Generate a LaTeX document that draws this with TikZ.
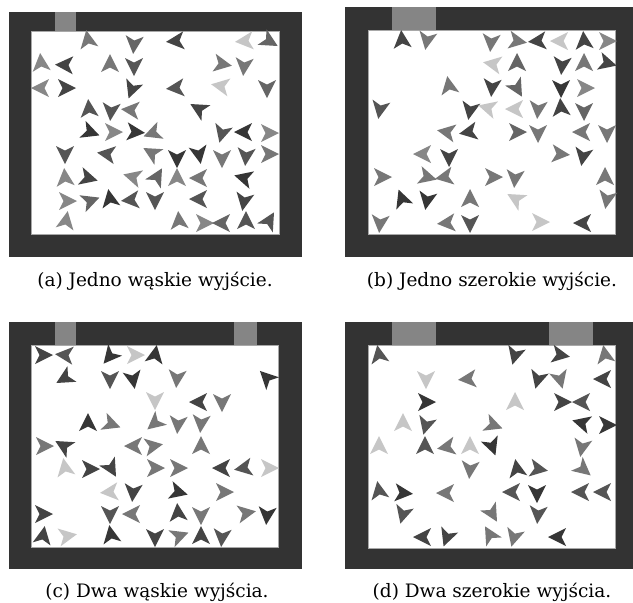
\documentclass[tikz,border=0pt]{standalone}
\usepackage{fontspec}
\setmainfont{DejaVu Serif}
\definecolor{frameC}{HTML}{333333}
\definecolor{exitC}{HTML}{858585}
\definecolor{edgeC}{HTML}{A8A8A8}
\definecolor{A}{HTML}{363636}
\definecolor{B}{HTML}{444444}
\definecolor{C}{HTML}{555555}
\definecolor{D}{HTML}{656565}
\definecolor{E}{HTML}{777777}
\definecolor{F}{HTML}{878787}
\definecolor{L}{HTML}{C6C6C6}
\newcommand\ag[4]{\fill[#4,shift={(#1,#2)},rotate=#3] (10,0) -- (-8,9) -- (-3.5,0) -- (-8,-9) -- cycle;}
\tikzset{
  framebox/.style={fill=frameC},
  room/.style={fill=white,draw=edgeC,line width=0.8pt},
  exitdoor/.style={fill=exitC},
  captext/.style={font=\fontsize{18.5}{22}\selectfont,inner sep=0pt,anchor=base}
}
\begin{document}
\begin{tikzpicture}[x=1pt,y=-1pt]
\useasboundingbox (0,0) rectangle (633,603);
% ---------- panel (a)
\fill[framebox] (9,12) rectangle (302,257);
\filldraw[room] (31,31) rectangle (279,234);
\fill[exitdoor] (55,12) rectangle (76,30.6);
% ---------- panel (b)
\fill[framebox] (345,7) rectangle (633,257);
\filldraw[room] (368,30) rectangle (615,234);
\fill[exitdoor] (392,7) rectangle (436,29.6);
% ---------- panel (c)
\fill[framebox] (9,322) rectangle (302,569);
\filldraw[room] (31,345) rectangle (278,547);
\fill[exitdoor] (55,322) rectangle (76,344.6);
\fill[exitdoor] (234,322) rectangle (257,344.6);
% ---------- panel (d)
\fill[framebox] (345,322) rectangle (633,569);
\filldraw[room] (368,345) rectangle (615,548);
\fill[exitdoor] (392,322) rectangle (436,344.6);
\fill[exitdoor] (549,322) rectangle (593,344.6);
% ---------- agents (a)
\ag{88}{40}{100}{E}\ag{134}{44}{265}{D}\ag{41}{63}{95}{F}\ag{65}{65}{178}{B}
\ag{110}{64}{90}{E}\ag{134}{66}{270}{C}\ag{41}{88}{180}{F}\ag{66}{88}{0}{B}
\ag{132}{89}{250}{B}\ag{89}{109}{95}{C}\ag{111}{111}{265}{C}\ag{131}{110}{175}{E}
\ag{90}{132}{340}{A}\ag{113}{132}{0}{F}\ag{135}{132}{355}{A}\ag{153}{133}{200}{E}
\ag{65}{154}{270}{C}\ag{107}{154}{172}{C}\ag{152}{153}{150}{E}\ag{65}{178}{95}{F}
\ag{88}{178}{345}{B}\ag{133}{177}{165}{F}\ag{157}{177}{60}{D}\ag{67}{201}{0}{F}
\ag{90}{201}{20}{D}\ag{110}{199}{100}{A}\ag{131}{200}{185}{C}\ag{155}{200}{270}{C}
\ag{66}{221}{80}{F}\ag{176}{41}{185}{B}\ag{245}{41}{185}{L}\ag{269}{41}{330}{D}
\ag{222}{64}{350}{E}\ag{244}{66}{265}{E}\ag{176}{88}{185}{C}\ag{221}{86}{170}{L}
\ag{267}{88}{270}{D}\ag{199}{109}{150}{B}\ag{222}{133}{255}{C}\ag{244}{132}{180}{A}
\ag{269}{133}{0}{F}\ag{177}{158}{270}{A}\ag{199}{154}{280}{A}\ag{222}{158}{270}{E}
\ag{246}{156}{265}{C}\ag{269}{154}{0}{E}\ag{177}{178}{90}{F}\ag{199}{178}{180}{E}
\ag{244}{178}{165}{A}\ag{199}{199}{180}{C}\ag{244}{201}{260}{B}\ag{179}{221}{95}{E}
\ag{204}{223}{0}{F}\ag{222}{223}{180}{D}\ag{246}{221}{90}{C}\ag{269}{221}{60}{C}
% ---------- agents (b)
\ag{402}{40}{95}{B}\ag{427}{40}{260}{E}\ag{449}{86}{100}{E}\ag{380}{109}{260}{C}
\ag{470}{110}{260}{B}\ag{447}{132}{170}{E}\ag{469}{132}{190}{B}\ag{423}{154}{180}{F}
\ag{449}{157}{270}{B}\ag{382}{177}{0}{E}\ag{427}{177}{345}{E}\ag{445}{177}{190}{E}
\ag{493}{177}{0}{E}\ag{402}{199}{110}{A}\ag{427}{200}{260}{A}\ag{470}{199}{90}{E}
\ag{380}{223}{265}{E}\ag{447}{223}{185}{E}\ag{470}{223}{270}{C}\ag{491}{42}{265}{E}
\ag{517}{41}{350}{E}\ag{538}{41}{185}{B}\ag{560}{41}{180}{L}\ag{584}{41}{95}{B}
\ag{607}{41}{0}{F}\ag{493}{64}{170}{L}\ag{517}{63}{90}{D}\ag{562}{65}{265}{B}
\ag{584}{63}{90}{E}\ag{607}{63}{345}{B}\ag{492}{87}{265}{B}\ag{517}{88}{300}{D}
\ag{561}{88}{270}{A}\ag{585}{88}{0}{F}\ag{488}{108}{165}{L}\ag{515}{109}{180}{L}
\ag{538}{109}{265}{E}\ag{561}{108}{95}{B}\ag{584}{111}{270}{D}\ag{517}{132}{0}{D}
\ag{538}{133}{270}{E}\ag{582}{132}{180}{E}\ag{607}{133}{270}{E}\ag{560}{154}{355}{E}
\ag{583}{156}{260}{B}\ag{515}{178}{265}{E}\ag{605}{177}{90}{E}\ag{516}{199}{150}{L}
\ag{607}{199}{260}{E}\ag{540}{222}{0}{L}\ag{583}{223}{180}{B}
% ---------- agents (c)
\ag{43}{355}{0}{B}\ag{65}{355}{175}{C}\ag{110}{356}{230}{A}\ag{135}{355}{0}{L}
\ag{155}{355}{80}{A}\ag{65}{378}{210}{B}\ag{110}{379}{270}{C}\ag{133}{379}{280}{A}
\ag{155}{400}{270}{L}\ag{88}{423}{90}{A}\ag{111}{424}{340}{E}\ag{155}{423}{220}{E}
\ag{44}{446}{0}{E}\ag{64}{446}{150}{B}\ag{134}{446}{180}{E}\ag{153}{446}{10}{E}
\ag{65}{468}{100}{L}\ag{90}{469}{0}{B}\ag{111}{468}{300}{B}\ag{155}{468}{0}{E}
\ag{110}{492}{185}{L}\ag{133}{492}{265}{B}\ag{43}{514}{0}{B}\ag{110}{514}{270}{C}
\ag{132}{514}{180}{E}\ag{43}{536}{80}{B}\ag{67}{536}{10}{L}\ag{111}{535}{100}{A}
\ag{155}{537}{270}{B}\ag{177}{378}{265}{E}\ag{267}{378}{135}{A}\ag{199}{402}{180}{B}
\ag{222}{402}{270}{E}\ag{178}{424}{265}{E}\ag{201}{423}{265}{E}\ag{201}{446}{90}{E}
\ag{178}{468}{0}{E}\ag{222}{468}{180}{B}\ag{244}{468}{190}{C}\ag{269}{468}{0}{L}
\ag{178}{492}{345}{A}\ag{224}{492}{0}{E}\ag{178}{513}{95}{B}\ag{201}{515}{270}{E}
\ag{246}{513}{10}{E}\ag{267}{515}{265}{A}\ag{179}{536}{20}{E}\ag{201}{536}{90}{B}
\ag{222}{537}{265}{C}
% ---------- agents (d)
\ag{379}{355}{100}{C}\ag{426}{379}{270}{L}\ag{468}{379}{185}{E}\ag{426}{402}{0}{A}
\ag{403}{423}{90}{L}\ag{426}{425}{255}{C}\ag{493}{425}{340}{E}\ag{379}{446}{90}{L}
\ag{425}{446}{90}{C}\ag{447}{447}{190}{E}\ag{470}{446}{90}{L}\ag{492}{446}{290}{A}
\ag{470}{469}{265}{E}\ag{379}{491}{100}{C}\ag{403}{493}{355}{A}\ag{446}{493}{180}{E}
\ag{403}{514}{255}{C}\ag{492}{513}{300}{E}\ag{423}{537}{180}{B}\ag{447}{537}{250}{B}
\ag{490}{535}{120}{E}\ag{515}{355}{255}{B}\ag{560}{355}{350}{B}\ag{605}{355}{100}{E}
\ag{538}{379}{255}{B}\ag{560}{379}{285}{E}\ag{603}{379}{180}{B}\ag{515}{402}{90}{L}
\ag{562}{402}{0}{B}\ag{582}{402}{180}{C}\ag{582}{423}{165}{A}\ag{607}{425}{0}{A}
\ag{582}{447}{260}{E}\ag{517}{469}{100}{B}\ag{538}{469}{350}{C}\ag{583}{469}{320}{E}
\ag{512}{492}{180}{C}\ag{537}{493}{270}{A}\ag{581}{492}{180}{C}\ag{603}{492}{180}{C}
\ag{538}{514}{265}{C}\ag{514}{537}{255}{E}\ag{558}{537}{180}{A}
% ---------- captions
\node[captext] (capa) at (155,286) {(a) Jedno wąskie wyjście.};
\node[captext] (capb) at (492,286) {(b) Jedno szerokie wyjście.};
\node[captext] (capc) at (157,597) {(c) Dwa wąskie wyjścia.};
\node[captext] (capd) at (492,597) {(d) Dwa szerokie wyjścia.};
\end{tikzpicture}
\end{document}
